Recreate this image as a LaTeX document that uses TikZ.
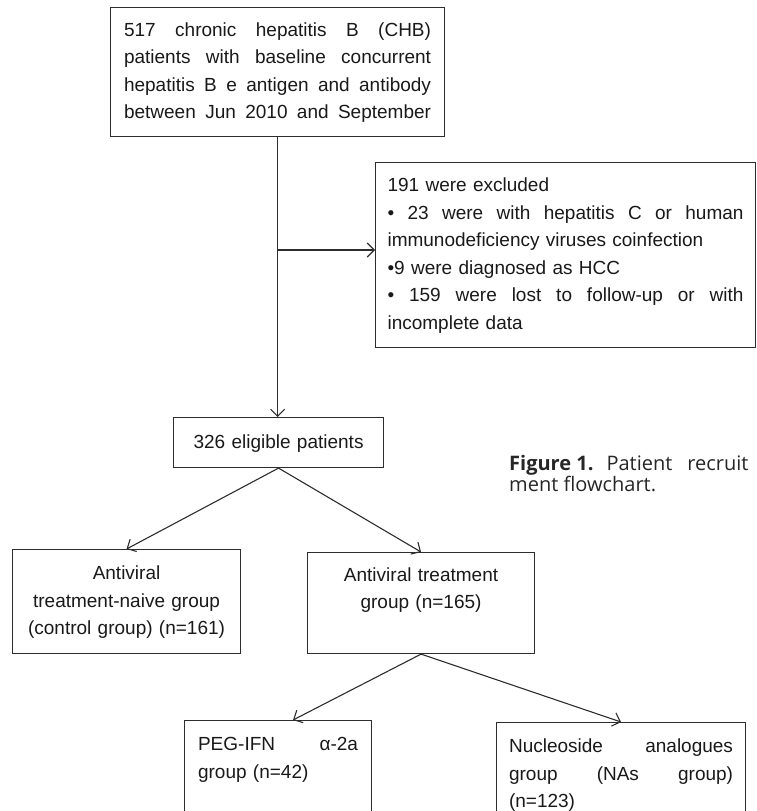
\documentclass[tikz,border=0pt]{standalone}
\usepackage{fontspec}
\setmainfont{Liberation Sans}
\newfontfamily\captionfamily{Open Sans}
\usetikzlibrary{positioning, calc, arrows.meta}
\definecolor{flowline}{RGB}{45,45,45}
\newcommand{\flowfont}{\fontsize{19}{27.5}\selectfont}
\newcommand{\fullline}[1]{\makebox[\linewidth][s]{\spaceskip=0pt\xspaceskip=0pt\relax #1}}
\tikzset{
        flow-box/.style={
            rectangle, draw=flowline, line width=1.1pt, anchor=north west,
            font=\flowfont, inner ysep=0pt, text=black!90,
            execute at begin node={\strut}, execute at end node={\strut}
        },
        flow-arrow/.style={
            draw=flowline, line width=1.1pt,
            -{Straight Barb[length=7pt, width=14pt, line width=1.1pt]}
        },
}
\begin{document}
\begin{tikzpicture}[x=1pt, y=-1pt]

        \clip (0,0) rectangle (756,811);

        % DRAW NODES (boxes at their top left corners)
        \node[flow-box, text width=307pt, inner xsep=13.5pt, minimum height=129pt, align=left] (cohort) at (110,7)
            {\fullline{517 chronic hepatitis B (CHB)}\\
             \fullline{patients with baseline concurrent}\\
             \fullline{hepatitis B e antigen and antibody}\\
             \fullline{between Jun 2010 and September}};
        \node[flow-box, text width=356pt, inner xsep=12pt, minimum height=185pt, align=left] (excluded) at (375,162)
            {191 were excluded\\
             \fullline{• 23 were with hepatitis C or human}\\
             immunodeficiency viruses coinfection\\
             •9 were diagnosed as HCC\\
             \fullline{• 159 were lost to follow-up or with}\\
             incomplete data};
        \node[flow-box, text width=184pt, inner xsep=13pt, minimum height=50pt, align=center] (eligible) at (173,417)
            {326 eligible patients};
        \node[flow-box, text width=200pt, inner xsep=14pt, minimum height=104pt, align=center] (naive) at (12,549)
            {Antiviral\\treatment-naive group\\(control group) (n=161)};
        \node[flow-box, text width=199pt, inner xsep=14pt, minimum height=101pt, align=center] (treated) at (307,552)
            {Antiviral treatment\\group (n=165)\\\mbox{}};
        \node[flow-box, text width=160pt, inner xsep=13.5pt, minimum height=104pt, align=left] (peg) at (184,720)
            {\fullline{PEG-IFN α-2a}\\group (n=42)\\\mbox{}};
        \node[flow-box, text width=224pt, inner xsep=12.5pt, minimum height=104pt, align=left] (nas) at (496,722)
            {\fullline{Nucleoside analogues}\\\fullline{group (NAs group)}\\(n=123)};
        \node[anchor=north west, inner sep=0pt, align=left, text=black!85,
              font=\captionfamily\fontsize{20}{21}\selectfont] (caption) at (509,455)
            {\textbf{Figure\ 1.}\hskip 13pt Patient\hskip 15pt recruit\\ment flowchart.};

        % CONNECT COHORT, EXCLUSIONS AND ELIGIBLE
        \coordinate (split) at (cohort.south |- 0,250);
        \draw [flow-arrow] (cohort.south) -- (cohort.south |- eligible.north);
        \draw [flow-arrow] (split) -- (split -| excluded.west);

        % CONNECT GROUPS
        \draw [flow-arrow] (eligible.south) -- (naive.north);
        \draw [flow-arrow] (eligible.south) -- (treated.north);
        \draw [flow-arrow] (treated.south) -- ($(peg.north)+(15,0)$);
        \draw [flow-arrow] (treated.south) -- (nas.north);

    \end{tikzpicture}
\end{document}
